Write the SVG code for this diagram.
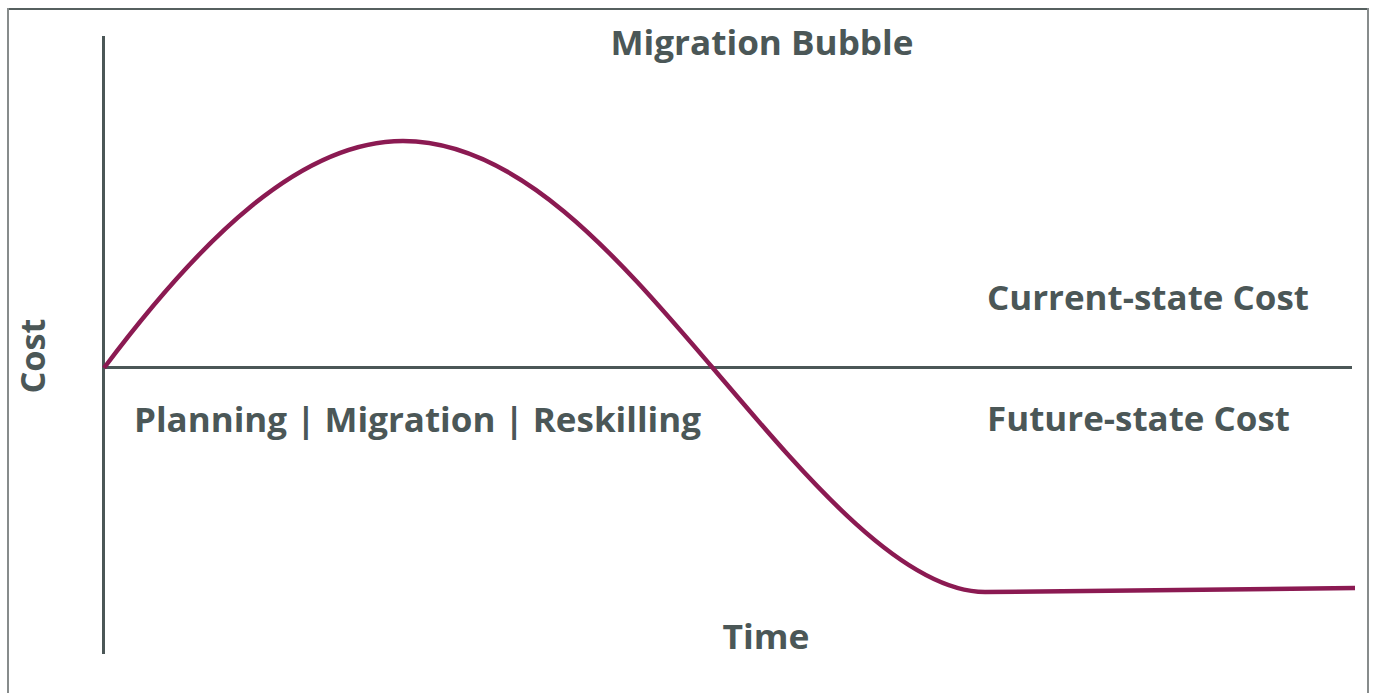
<svg xmlns="http://www.w3.org/2000/svg" width="1373" height="693" viewBox="0 0 1373 693">
<style>
.lbl{font-family:"Open Sans","DejaVu Sans",sans-serif;font-weight:700;fill:#4b5757;}
.axis{stroke:#4b5757;stroke-width:3;fill:none;}
.curve{stroke:#8b1a52;stroke-width:4.5;fill:none;stroke-linecap:butt;}
</style>
<rect x="0" y="0" width="1373" height="693" fill="#ffffff"/>
<g id="frame">
<line x1="8" y1="9" x2="1368" y2="9" stroke="#56605f" stroke-width="2"/>
<line x1="8" y1="8" x2="8" y2="693" stroke="#878c8c" stroke-width="2"/>
<line x1="1368" y1="8" x2="1368" y2="693" stroke="#878c8c" stroke-width="2"/>
</g>
<g id="connectors">
<line class="axis" x1="103.5" y1="36" x2="103.5" y2="654"/>
<line class="axis" x1="102" y1="367.5" x2="1352" y2="367.5"/>
<path id="cost-curve" class="curve" d="M104,368 C200,240 300,141 403,141 C520,141 620,260 712,367 C800,470 900,592 985,592 L1355,588"/>
</g>
<g id="title"><text class="lbl" x="762" y="55" font-size="34" text-anchor="middle" textLength="303" lengthAdjust="spacingAndGlyphs">Migration Bubble</text></g>
<g id="y-label"><text class="lbl" transform="translate(45,356) rotate(-90)" font-size="34" text-anchor="middle" textLength="75" lengthAdjust="spacingAndGlyphs">Cost</text></g>
<g id="x-label"><text class="lbl" x="766" y="649" font-size="34" text-anchor="middle" textLength="87" lengthAdjust="spacingAndGlyphs">Time</text></g>
<g id="phases"><text class="lbl" x="134" y="432" font-size="34" textLength="567" lengthAdjust="spacingAndGlyphs">Planning | Migration | Reskilling</text></g>
<g id="current"><text class="lbl" x="987" y="310" font-size="34" textLength="322" lengthAdjust="spacingAndGlyphs">Current-state Cost</text></g>
<g id="future"><text class="lbl" x="987" y="431" font-size="34" textLength="303" lengthAdjust="spacingAndGlyphs">Future-state Cost</text></g>
</svg>
